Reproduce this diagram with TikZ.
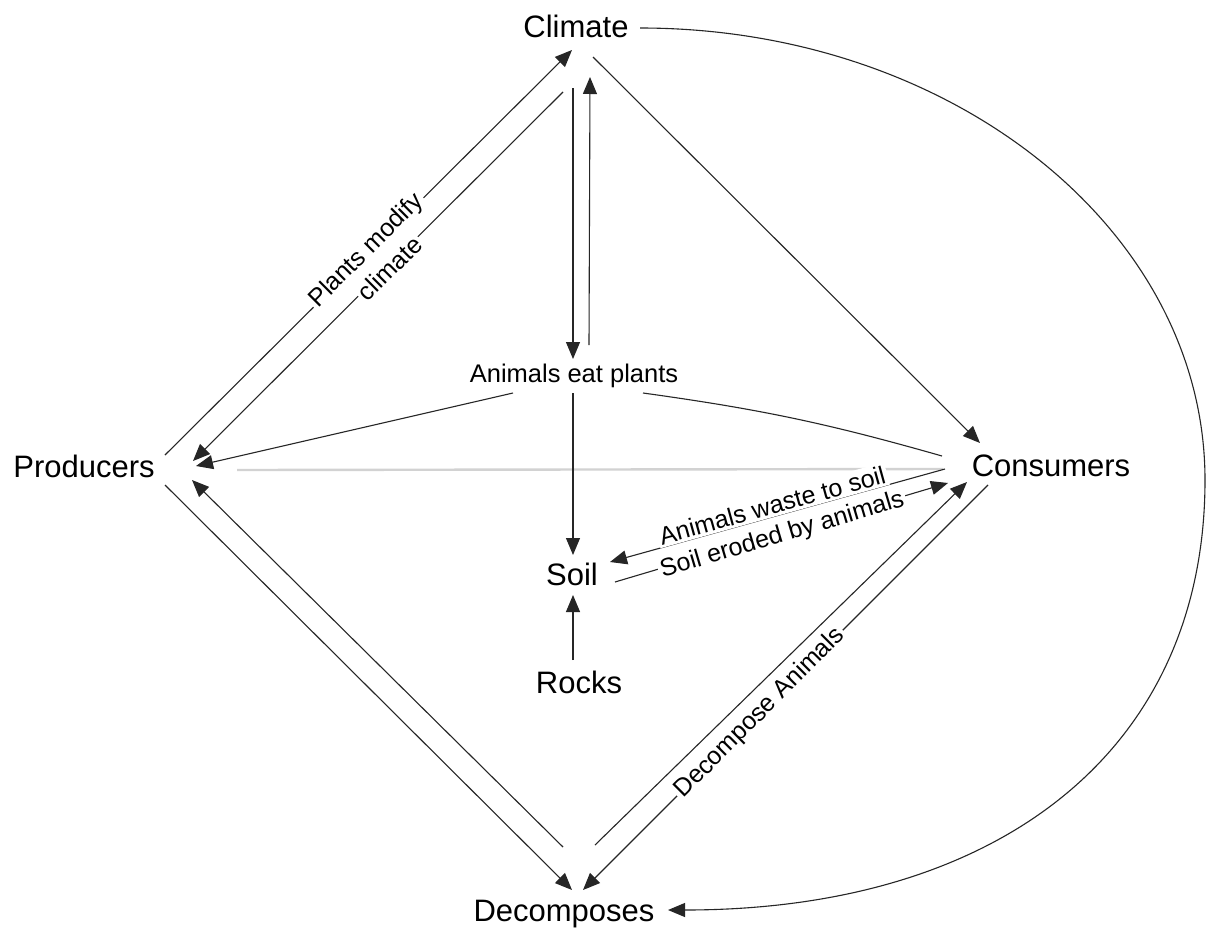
\documentclass[tikz,border=0pt]{standalone}
\usepackage{fontspec}
\setmainfont{Liberation Sans}
\usetikzlibrary{arrows.meta,calc}
\begin{document}
\begin{tikzpicture}[x=0.5pt,y=-0.5pt,
  every node/.style={inner sep=0pt},
  mainnode/.style={font=\fontsize{15.5}{18}\selectfont, anchor=base},
  smallnode/.style={font=\fontsize{12.75}{15}\selectfont, anchor=base},
  conn/.style={line width=0.55pt, draw=black!85},
  arr/.style={conn, -{Triangle[length=8.5pt,width=7pt]}},
  lbl/.style={font=\fontsize{12.5}{15}\selectfont, sloped, fill=white, inner sep=1.2pt},
  grayline/.style={line width=1.2pt, draw=gray!35},
]
\useasboundingbox (0,0) rectangle (1210,932);
\fill[white] (0,0) rectangle (1210,932);

% nodes
\node[mainnode] (clim) at (576,37) {Climate};
\node[mainnode] (prod) at (84,477) {Producers};
\node[mainnode] (cons) at (1051,476) {Consumers};
\node[mainnode] (deco) at (564,921) {Decomposes};
\node[smallnode] (aep) at (574,382) {Animals eat plants};
\node[mainnode] (soil) at (572,585) {Soil};
\node[mainnode] (rock) at (579,693) {Rocks};

% gray line producers -- consumers
\draw[grayline] ($(prod.base)+(153,-7)$) -- ($(cons.base)+(-108,-7)$);

% Producers <-> Climate
\draw[arr] ($(prod.base)+(81,-22)$) -- node[lbl,pos=0.5,yshift=1.2pt] (l1) {Plants modify} ($(clim.base)+(-4,13)$);
\draw[arr] ($(clim.base)+(-13,55)$) -- node[lbl,pos=0.473,yshift=-1.2pt] (l2) {climate} ($(prod.base)+(109,-16)$);

% Climate <-> Animals eat plants
\draw[arr] ($(clim.base)+(-3,51)$) -- ($(aep.base)+(-1,-23)$);
\draw[arr] ($(aep.base)+(15,-37)$) -- ($(clim.base)+(14,40)$);

% Climate -> Consumers
\draw[arr] ($(clim.base)+(17,20)$) -- ($(cons.base)+(-71,-33)$);

% Climate -> Decomposes (big curve)
\draw[arr] ($(clim.base)+(64,-9)$) .. controls (952,28) and (1205,230) .. (1205,480)
  .. controls (1205,750) and (1000,910) .. ($(deco.base)+(104,-11)$);

% Animals eat plants -> Producers
\draw[arr] ($(aep.base)+(-61,11)$) -- ($(prod.base)+(112,-11)$);

% Animals eat plants -- Consumers
\draw[conn] ($(aep.base)+(69,11)$) to[bend left=4] ($(cons.base)+(-109,-20)$);

% Animals eat plants -> Soil
\draw[arr] ($(aep.base)+(-1,11)$) -- ($(soil.base)+(1,-30)$);

% Rocks -> Soil
\draw[arr] ($(rock.base)+(-6,-33)$) -- ($(soil.base)+(1,10)$);

% Consumers -> Soil
\draw[arr] ($(cons.base)+(-106,-7)$) -- node[lbl,pos=0.507,anchor=base,yshift=1.2pt] (l4) {Animals waste to soil} ($(soil.base)+(38,-23)$);

% Soil -> Consumers
\draw[arr] ($(soil.base)+(43,-3)$) -- node[lbl,pos=0.5,yshift=-1.5pt] (l5) {Soil eroded by animals} ($(cons.base)+(-103,7)$);

% Decomposes <-> Consumers
\draw[arr] ($(deco.base)+(31,-76)$) -- ($(cons.base)+(-84,6)$);
\draw[arr] ($(cons.base)+(-63,9)$) -- node[lbl,pos=0.563] (l3) {Decompose Animals} ($(deco.base)+(19,-31)$);

% Decomposes <-> Producers
\draw[arr] ($(deco.base)+(-1,-74)$) -- ($(prod.base)+(108,3)$);
\draw[arr] ($(prod.base)+(81,8)$) -- ($(deco.base)+(8,-31)$);
\end{tikzpicture}
\end{document}
